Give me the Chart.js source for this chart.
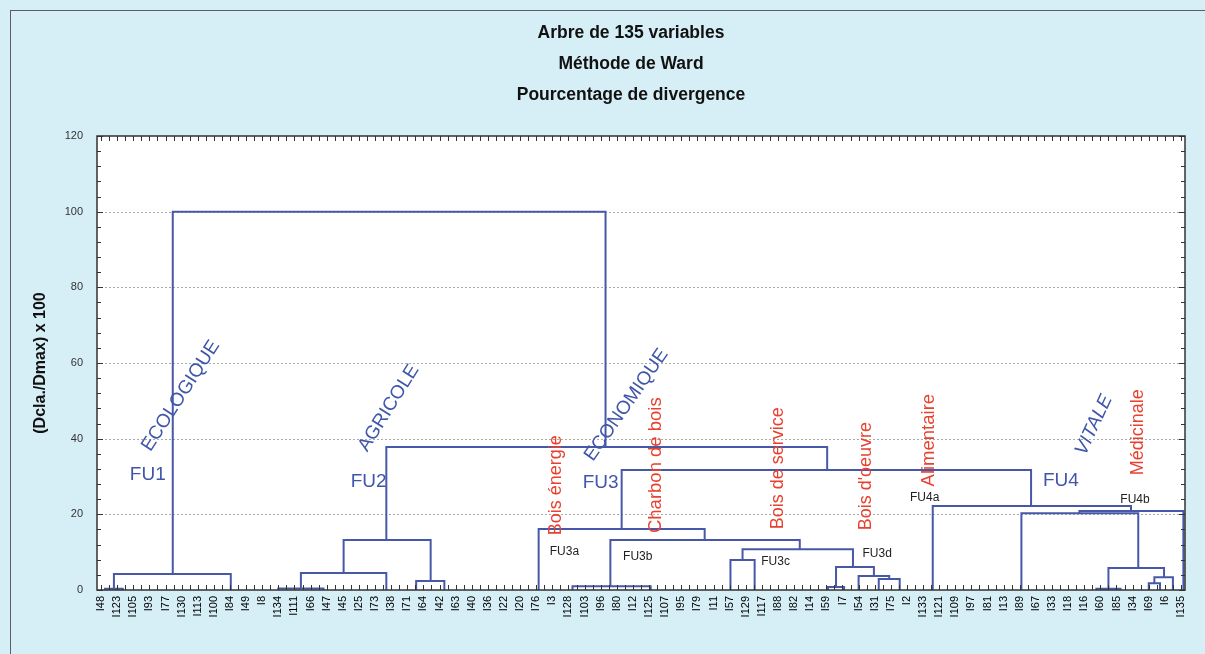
<!DOCTYPE html>
<html>
<head>
<meta charset="utf-8">
<script src="https://cdn.jsdelivr.net/npm/chart.js@4.4.0/dist/chart.umd.min.js"></script>
<style>
  html, body { margin: 0; padding: 0; overflow: hidden; background: #d6eef6; }
  #frame { position: absolute; left: 10px; top: 10px; width: 1260px; height: 660px;
           border-top: 1px solid #5e5e5e; border-left: 1px solid #5e5e5e; }
  #wrap { position: absolute; left: 0; top: 0; width: 1240px; height: 643px; }
</style>
</head>
<body>
<div id="frame"><div id="wrap"><canvas id="tree" width="1240" height="643"></canvas></div></div>
<script>
// Leaf names, one every second leaf (135 leaves in all)
const leafLabels = ['I48', 'I123', 'I105', 'I93', 'I77', 'I130', 'I113', 'I100', 'I84', 'I49', 'I8', 'I134',
  'I111', 'I66', 'I47', 'I45', 'I25', 'I73', 'I38', 'I71', 'I64', 'I42', 'I63', 'I40', 'I36', 'I22', 'I20',
  'I76', 'I3', 'I128', 'I103', 'I96', 'I80', 'I12', 'I125', 'I107', 'I95', 'I79', 'I11', 'I57', 'I129',
  'I117', 'I88', 'I82', 'I14', 'I59', 'I7', 'I54', 'I31', 'I75', 'I2', 'I133', 'I121', 'I109', 'I97', 'I81',
  'I13', 'I89', 'I67', 'I33', 'I18', 'I16', 'I60', 'I85', 'I34', 'I69', 'I6', 'I135'];
const leafCount = 135;

// Links of the tree: merge height, left/right position (in leaves), heights of the two children
const linkHeight    = [100, 37.8, 13.2, 4.5, 2.4, 4.2, 31.7, 16.1, 13.2, 1.0, 10.8, 7.9, 6.1, 3.7, 2.9, 0.8,
                       22.2, 20.9, 20.3, 5.8, 3.4, 1.8, 0.3, 0.4, 0.3];
const linkLeft      = [8.9, 35.4, 30.1, 24.8, 39.1, 1.6, 64.6, 54.3, 63.2, 58.5, 79.6, 78.1, 91.2, 94.0, 96.5, 90.2,
                       103.2, 121.4, 114.2, 125.0, 130.7, 130.0, 123.5, 22.0, 0.5];
const linkRight     = [62.6, 90.1, 40.9, 35.4, 42.6, 16.1, 115.4, 74.9, 86.7, 68.2, 93.3, 81.1, 95.9, 97.8, 99.1, 92.2,
                       127.8, 134.3, 128.7, 131.9, 133.0, 131.4, 126.5, 27.6, 2.7];
const linkLeftBase  = [4.2, 13.2, 4.5, 0.4, 0, 0.3, 16.1, 0, 1.0, 0, 7.9, 0, 0.8, 0, 0, 0,
                       0, 20.3, 0, 0.3, 1.8, 0, 0, 0, 0];
const linkRightBase = [37.8, 31.7, 2.4, 0, 0, 0, 22.2, 13.2, 10.8, 0, 6.1, 0, 3.7, 2.9, 0, 0,
                       20.9, 0, 5.8, 3.4, 0, 0, 0, 0, 0];

const lineColor = '#4858a8';
const blue = '#3f56aa';
const red = '#e8412f';

// Text written on the tree (x in leaves, y in % divergence)
const notes = [
  {t: 'ECOLOGIQUE', x: 9.9, y: 51.3, a: -57, c: blue, s: 19},
  {t: 'AGRICOLE', x: 35.7, y: 48.1, a: -58, c: blue, s: 19},
  {t: 'ECONOMIQUE', x: 65.2, y: 48.9, a: -55, c: blue, s: 19},
  {t: 'VITALE', x: 123.2, y: 43.6, a: -65, c: blue, s: 19, it: true},
  {t: 'FU1', x: 5.8, y: 30.4, a: 0, c: blue, s: 19},
  {t: 'FU2', x: 33.2, y: 28.5, a: 0, c: blue, s: 19},
  {t: 'FU3', x: 62.0, y: 28.3, a: 0, c: blue, s: 19},
  {t: 'FU4', x: 119.1, y: 28.8, a: 0, c: blue, s: 19},
  {t: 'Bois énergie', x: 56.4, y: 27.7, a: -90, c: red, s: 18},
  {t: 'Charbon de bois', x: 68.9, y: 33.0, a: -90, c: red, s: 18.5},
  {t: 'Bois de service', x: 84.0, y: 32.2, a: -90, c: red, s: 18},
  {t: "Bois d'oeuvre", x: 94.9, y: 30.1, a: -90, c: red, s: 18},
  {t: 'Alimentaire', x: 102.7, y: 39.6, a: -90, c: red, s: 18.5},
  {t: 'Médicinale', x: 128.7, y: 41.7, a: -90, c: red, s: 18},
  {t: 'FU3a', x: 57.5, y: 10.0, a: 0, c: '#222', s: 12},
  {t: 'FU3b', x: 66.6, y: 8.7, a: 0, c: '#222', s: 12},
  {t: 'FU3c', x: 83.7, y: 7.4, a: 0, c: '#222', s: 12},
  {t: 'FU3d', x: 96.3, y: 9.5, a: 0, c: '#222', s: 12},
  {t: 'FU4a', x: 102.2, y: 24.3, a: 0, c: '#222', s: 12},
  {t: 'FU4b', x: 128.3, y: 23.8, a: 0, c: '#222', s: 12}
];

const datasets = linkHeight.map((h, k) => ({
  data: [
    {x: linkLeft[k], y: linkLeftBase[k]},
    {x: linkLeft[k], y: h},
    {x: linkRight[k], y: h},
    {x: linkRight[k], y: linkRightBase[k]}
  ],
  showLine: true,
  borderColor: lineColor,
  borderWidth: 2,
  pointRadius: 0,
  tension: 0,
  fill: false
}));

const plain = '"Liberation Sans", Arial, sans-serif';

// White plot, dotted grid, inner ticks, border and annotations
const treeDecor = {
  id: 'treeDecor',
  beforeDraw(chart) {
    const {ctx, chartArea: a, scales: {y}} = chart;
    ctx.save();
    ctx.fillStyle = '#fff';
    ctx.fillRect(a.left, a.top, a.right - a.left, a.bottom - a.top);
    ctx.strokeStyle = '#aaa';
    ctx.lineWidth = 1;
    ctx.setLineDash([2, 2]);
    for (let v = 20; v < 120; v += 20) {
      const py = Math.round(y.getPixelForValue(v)) + 0.5;
      ctx.beginPath();
      ctx.moveTo(a.left, py);
      ctx.lineTo(a.right, py);
      ctx.stroke();
    }
    ctx.restore();
  },
  afterDatasetsDraw(chart) {
    const {ctx, chartArea: a, scales: {x, y}} = chart;
    ctx.save();
    ctx.strokeStyle = '#333';
    ctx.lineWidth = 1;
    ctx.beginPath();
    for (let i = 0; i < leafCount; i++) {
      const px = Math.round(x.getPixelForValue(i)) + 0.5;
      ctx.moveTo(px, a.bottom); ctx.lineTo(px, a.bottom - 5);
      ctx.moveTo(px, a.top); ctx.lineTo(px, a.top + 5);
    }
    for (let v = 0; v <= 120; v += 4) {
      const py = Math.round(y.getPixelForValue(v)) + 0.5;
      const len = v % 20 === 0 ? 6 : 4;
      ctx.moveTo(a.left, py); ctx.lineTo(a.left + len, py);
      ctx.moveTo(a.right, py); ctx.lineTo(a.right - len, py);
    }
    ctx.stroke();
    ctx.lineWidth = 1.5;
    ctx.strokeRect(a.left, a.top, a.right - a.left, a.bottom - a.top);

    notes.forEach(n => {
      ctx.save();
      ctx.translate(x.getPixelForValue(n.x), y.getPixelForValue(n.y));
      ctx.rotate(n.a * Math.PI / 180);
      ctx.fillStyle = n.c;
      ctx.font = (n.it ? 'italic ' : '') + n.s + 'px ' + plain;
      ctx.textAlign = 'center';
      ctx.textBaseline = 'middle';
      ctx.fillText(n.t, 0, 0);
      ctx.restore();
    });
    ctx.restore();
  }
};

new Chart(document.getElementById('tree'), {
  type: 'scatter',
  data: { datasets },
  options: {
    responsive: false,
    animation: false,
    layout: { padding: 0 },
    plugins: {
      legend: { display: false },
      tooltip: { enabled: false },
      title: {
        display: true,
        text: ['Arbre de 135 variables', 'Méthode de Ward', 'Pourcentage de divergence'],
        color: '#111',
        font: { family: plain, size: 17.5, weight: 'bold', lineHeight: 31 / 17.5 },
        padding: { top: 7, bottom: 25 }
      }
    },
    scales: {
      x: {
        type: 'linear',
        min: -0.5,
        max: leafCount - 0.5,
        grid: { display: false, drawTicks: false },
        border: { display: false },
        afterBuildTicks: s => { s.ticks = leafLabels.map((_, k) => ({ value: 2 * k })); },
        afterFit: s => { s.height = 64; },
        ticks: {
          autoSkip: false,
          minRotation: 90,
          maxRotation: 90,
          padding: 6,
          color: '#000',
          font: { family: plain, size: 11 },
          callback: v => leafLabels[v / 2]
        }
      },
      y: {
        min: 0,
        max: 120,
        grid: { display: false, drawTicks: false },
        border: { display: false },
        afterFit: s => { s.width = 86; },
        ticks: {
          stepSize: 20,
          padding: 14,
          color: '#333',
          font: { family: plain, size: 11 }
        },
        title: {
          display: true,
          text: '(Dcla./Dmax) x 100',
          color: '#111',
          font: { family: plain, size: 16, weight: 'bold' },
          padding: { top: 19.5, bottom: 0 }
        }
      },
      yr: {
        type: 'linear',
        position: 'right',
        grid: { display: false, drawTicks: false },
        border: { display: false },
        ticks: { display: false },
        afterFit: s => { s.width = 66; }
      }
    }
  },
  plugins: [treeDecor]
});
</script>
</body>
</html>
